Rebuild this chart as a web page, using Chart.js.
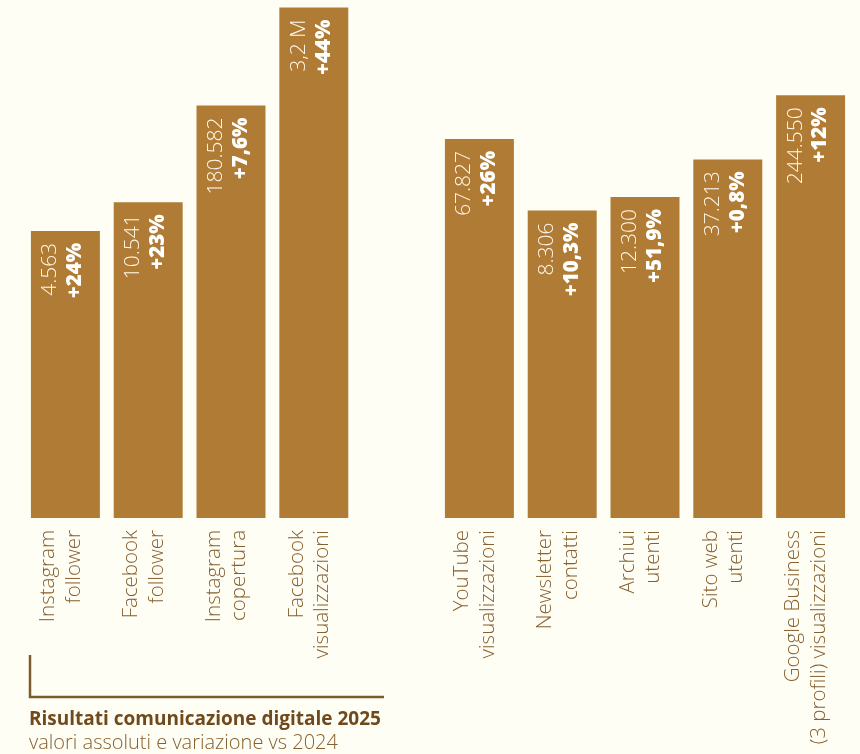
<!DOCTYPE html>
<html>
<head>
<meta charset="utf-8">
<script src="https://cdn.jsdelivr.net/npm/chart.js@4/dist/chart.umd.min.js"></script>
<style>
  html, body { margin: 0; padding: 0; background: #fffef5; overflow: hidden; }
  #wrap { width: 860px; height: 754px; position: relative; }
</style>
</head>
<body>
<div id="wrap"><canvas id="c" width="860" height="754"></canvas></div>
<script>
// ---- data ----
const categories = [
  ['Instagram', 'follower'],
  ['Facebook', 'follower'],
  ['Instagram', 'copertura'],
  ['Facebook', 'visualizzazioni'],
  '',
  ['YouTube', 'visualizzazioni'],
  ['Newsletter', 'contatti'],
  ['Archiui', 'utenti'],
  ['Sito web', 'utenti'],
  ['Google Business', '(3 profili) visualizzazioni']
];
const values2025 = [4563, 10541, 180582, 3200000, null, 67827, 8306, 12300, 37213, 244550];
const valueLabels = ['4.563', '10.541', '180.582', '3,2 M', '', '67.827', '8.306', '12.300', '37.213', '244.550'];
const changeVs2024 = ['+24%', '+23%', '+7,6%', '+44%', '', '+26%', '+10,3%', '+51,9%', '+0,8%', '+12%'];
const titleText = 'Risultati comunicazione digitale 2025';
const subtitleText = 'valori assoluti e variazione vs 2024';

const BAR = '#b07b35';
const TEXT = '#86602f';
const TITLE = '#70491c';
const FONT = '"Open Sans"';

const barLabels = {
  id: 'barLabels',
  afterDatasetsDraw(chart) {
    const ctx = chart.ctx;
    const meta = chart.getDatasetMeta(0);
    meta.data.forEach((bar, i) => {
      if (values2025[i] == null) return;
      ctx.save();
      ctx.translate(bar.x, bar.y + 12);
      ctx.rotate(-Math.PI / 2);
      ctx.textAlign = 'right';
      ctx.textBaseline = 'middle';
      ctx.fillStyle = '#fff8ea';
      ctx.font = '300 21px ' + FONT;
      ctx.fillText(valueLabels[i], 0, -15);
      ctx.fillStyle = '#ffffff';
      ctx.font = '800 20.5px ' + FONT;
      ctx.fillText(changeVs2024[i], 0, 10);
      ctx.restore();
    });
  }
};

const caption = {
  id: 'caption',
  afterDraw(chart) {
    const ctx = chart.ctx;
    ctx.save();
    ctx.strokeStyle = '#7b5a2e';
    ctx.lineWidth = 2.5;
    ctx.beginPath();
    ctx.moveTo(30, 655);
    ctx.lineTo(30, 697);
    ctx.lineTo(384, 697);
    ctx.stroke();
    ctx.textAlign = 'left';
    ctx.textBaseline = 'alphabetic';
    ctx.fillStyle = TITLE;
    ctx.font = 'bold 19px ' + FONT;
    ctx.fillText(titleText, 29, 725);
    ctx.fillStyle = TEXT;
    ctx.font = '300 20px ' + FONT;
    ctx.fillText(subtitleText, 29, 749);
    ctx.restore();
  }
};

new Chart(document.getElementById('c'), {
  type: 'bar',
  data: {
    labels: categories,
    datasets: [{
      data: values2025,
      backgroundColor: BAR,
      borderWidth: 0,
      barPercentage: 0.833,
      categoryPercentage: 1
    }]
  },
  options: {
    responsive: false,
    animation: false,
    layout: { padding: { left: 24, right: 8, top: 0, bottom: 0 } },
    plugins: { legend: { display: false }, tooltip: { enabled: false } },
    scales: {
      y: {
        type: 'logarithmic',
        min: 1,
        max: 4000000,
        display: false
      },
      x: {
        grid: { display: false, drawTicks: false },
        border: { display: false },
        afterFit(scale) {
          scale.height = 236;
          scale.paddingLeft = 0;
          scale.paddingRight = 0;
        },
        ticks: {
          autoSkip: false,
          maxRotation: 90,
          minRotation: 90,
          padding: 12,
          labelOffset: -17,
          color: TEXT,
          font: { family: FONT, weight: '300', size: 20.5, lineHeight: 1.25 }
        }
      }
    }
  },
  plugins: [barLabels, caption]
});
</script>
</body>
</html>
